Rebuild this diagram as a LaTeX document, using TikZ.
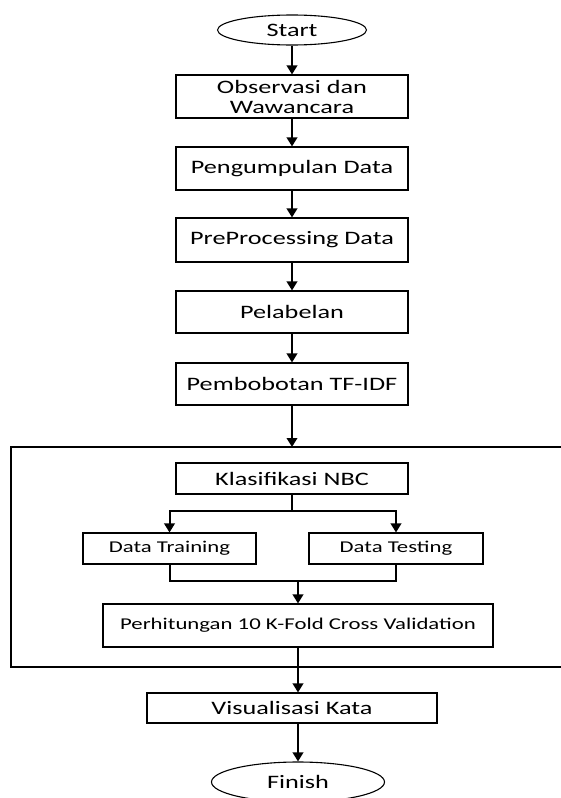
\documentclass[tikz,border=0pt]{standalone}
\usepackage{fontspec}
\setmainfont{Carlito}[FakeStretch=1.38]
\usepackage{tikz}
\usetikzlibrary{arrows.meta,positioning,shapes}
\tikzset{
    %Define standard arrow tip
    >={Triangle[length=9pt,width=10.5pt]},
    %Define style for boxes
    pbox/.style={
           rectangle,
           draw=black, line width=1.1pt,
           inner sep=0pt,
           minimum width=232pt,
           minimum height=43pt,
           align=center,
           font=\fontsize{19}{20}\selectfont},
    sbox/.style={
           pbox,
           minimum height=31pt,
           font=\fontsize{16.5}{18}\selectfont},
    term/.style={
           ellipse,
           draw=black, line width=1.1pt,
           inner sep=0pt,
           font=\fontsize{19}{20}\selectfont},
    % Define arrow style
    arr/.style={
           ->,
           line width=2pt},
    lin/.style={
           line width=2pt}
}

\begin{document}
\begin{tikzpicture}[x=1pt,y=-1pt]
    \useasboundingbox (0,0) rectangle (561,798);

    % TERMINALS AND MAIN STEPS
    \node[term, minimum width=149pt, minimum height=30pt] at (292,30) (start) {Start};
    \node[pbox] at (292,96.5) (observasi) {Observasi dan\\Wawancara};
    \node[pbox] at (292,168.5) (kumpul) {Pengumpulan Data};
    \node[pbox, minimum height=44pt] at (292,240) (prepro) {PreProcessing Data};
    \node[pbox, minimum height=42pt] at (292,312) (label) {Pelabelan};
    \node[pbox, minimum height=42pt] at (292,384) (bobot) {Pembobotan TF-IDF};

    % FRAME
    \draw[line width=1.1pt] (562,447) -- (11,447) -- (11,667) -- (562,667);
    \coordinate (frametop) at (292,447);

    \node[pbox, minimum height=31pt, font=\fontsize{19}{20}\selectfont] at (292,478.5) (nbc) {Klasifikasi NBC};
    \node[sbox, minimum width=173pt] at (169.5,548.5) (training) {Data Training};
    \node[sbox, minimum width=174pt] at (396,548.5) (testing) {Data Testing};
    \node[sbox, minimum width=390pt, minimum height=43pt] at (298,625.5) (kfold) {Perhitungan 10 K-Fold Cross Validation};
    \coordinate (split) at (292,511);
    \coordinate (join) at (298,581);

    \node[pbox, minimum width=290pt, minimum height=30pt] at (292,708) (visual) {Visualisasi Kata};
    \node[term, minimum width=173pt, minimum height=40pt] at (298,782) (finish) {Finish};

    % ARROWS
    \draw[arr] (start) -- (observasi);
    \draw[arr] (observasi) -- (kumpul);
    \draw[arr] (kumpul) -- (prepro);
    \draw[arr] (prepro) -- (label);
    \draw[arr] (label) -- (bobot);
    \draw[arr] (bobot) -- (frametop);

    \draw[lin] (nbc) -- (split);
    \draw[arr] (split) -| (training);
    \draw[arr] (split) -| (testing);
    \draw[lin] (training.south) |- (join);
    \draw[lin] (testing.south) |- (join);
    \draw[arr] (join) -- (kfold);

    \draw[arr] (kfold.south) -- (kfold.south |- visual.north);
    \draw[arr] (visual.south -| finish.north) -- (finish);
\end{tikzpicture}
\end{document}
